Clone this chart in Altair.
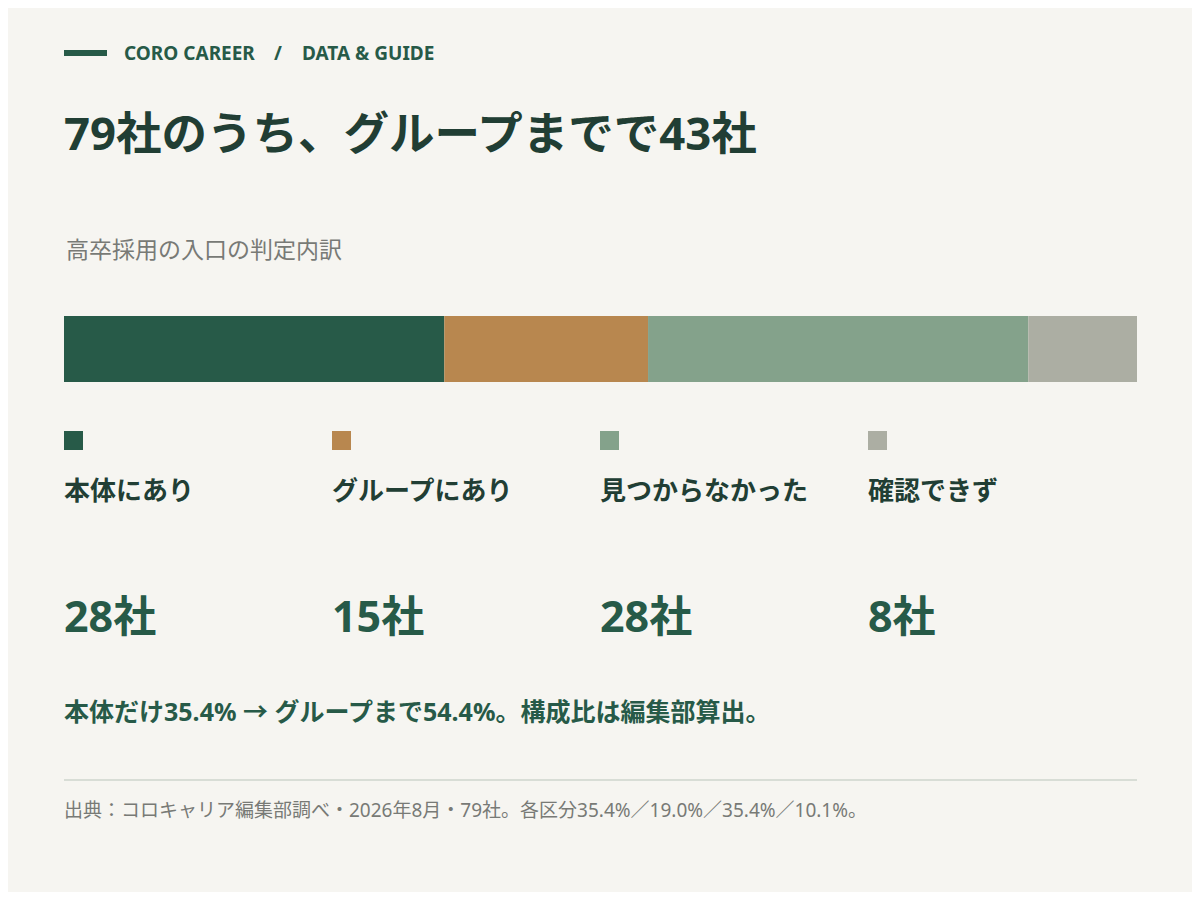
import altair as alt
import pandas as pd

# ---- data ----
categories = ["本体にあり", "グループにあり", "見つからなかった", "確認できず"]
counts = [28, 15, 28, 8]
count_labels = ["28社", "15社", "28社", "8社"]
colors = ["#275a48", "#b8874f", "#84a28b", "#acaea3"]

header_parts = ["CORO CAREER", "/", "DATA & GUIDE"]
title_text = "79社のうち、グループまでで43社"
subtitle_text = "高卒採用の入口の判定内訳"
note_text = "本体だけ35.4% → グループまで54.4%。構成比は編集部算出。"
source_text = "出典：コロキャリア編集部調べ・2026年8月・79社。各区分35.4%／19.0%／35.4%／10.1%。"

FONT = "'Noto Sans', 'Noto Sans CJK JP', sans-serif"
BG = "#f6f5f1"
DARK = "#213e34"
GREEN = "#275a48"
GRAY = "#787a76"

total = sum(counts)
starts = [sum(counts[:i]) for i in range(len(counts))]
bar_df = pd.DataFrame({
    "cat": categories,
    "start": starts,
    "end": [s + c for s, c in zip(starts, counts)],
})
leg_df = pd.DataFrame({"cat": categories, "idx": list(range(len(categories))), "num": count_labels})

color_scale = alt.Scale(domain=categories, range=colors)

bar = alt.Chart(bar_df).mark_bar(size=66).encode(
    x=alt.X("start:Q", scale=alt.Scale(domain=[0, total], range=[56, 1129]), axis=None),
    x2="end:Q",
    y=alt.value(341),
    color=alt.Color("cat:N", scale=color_scale, legend=None),
)

leg_x = alt.X("idx:Q", scale=alt.Scale(domain=[0, 3], range=[56, 860]), axis=None)

squares = alt.Chart(leg_df).mark_square(size=361, opacity=1, xOffset=9.5).encode(
    x=leg_x, y=alt.value(432.5),
    color=alt.Color("cat:N", scale=color_scale, legend=None),
)
labels = alt.Chart(leg_df).mark_text(align="left", baseline="middle", font=FONT, fontWeight="bold",
                                     fontSize=26, color=DARK).encode(
    x=leg_x, y=alt.value(484), text="cat:N")
nums = alt.Chart(leg_df).mark_text(align="left", baseline="middle", font=FONT, fontWeight="bold",
                                   fontSize=43, color=GREEN).encode(
    x=leg_x, y=alt.value(611), text="num:N")
legend_layer = alt.layer(squares, labels, nums)

def txt(s, x, y, size, color, weight="normal"):
    return alt.Chart(pd.DataFrame({"t": [s]})).mark_text(
        align="left", baseline="middle", font=FONT, fontWeight=weight, fontSize=size, color=color
    ).encode(x=alt.value(x), y=alt.value(y), text="t:N")

head_line = alt.Chart(pd.DataFrame({"a": [0]})).mark_rule(color=GREEN, strokeWidth=6).encode(
    x=alt.value(56), x2=alt.value(99), y=alt.value(45))
sep_line = alt.Chart(pd.DataFrame({"a": [0]})).mark_rule(color="#d8ddd6", strokeWidth=2).encode(
    x=alt.value(56), x2=alt.value(1129), y=alt.value(772))

texts = alt.layer(
    head_line,
    txt(header_parts[0], 116, 46, 19, GREEN, "bold"),
    txt(header_parts[1], 266, 46, 19, GREEN, "bold"),
    txt(header_parts[2], 294, 46, 19, GREEN, "bold"),
    txt(title_text, 56, 128, 45.5, DARK, "bold"),
    txt(subtitle_text, 58, 243, 23, GRAY),
    txt(note_text, 56, 705, 25, GREEN, "bold"),
    sep_line,
    txt(source_text, 56, 803, 19, GRAY),
)

chart = alt.layer(bar, legend_layer, texts).resolve_scale(x="independent").properties(
    width=1184, height=884, padding=0, background=BG,
    autosize=alt.AutoSizeParams(type="fit", contains="padding"),
).configure_view(stroke=None)

chart.save("out.html", embed_options={"renderer": "svg", "actions": False})
